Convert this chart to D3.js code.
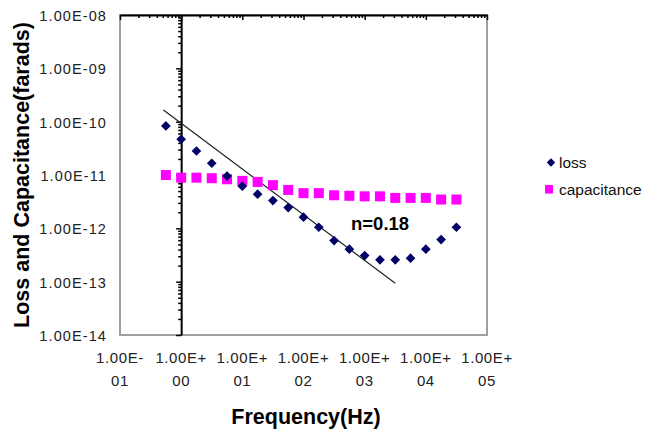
<!DOCTYPE html>
<html>
<head>
<meta charset="utf-8">
<script src="https://cdn.jsdelivr.net/npm/d3@7"></script>
<style>
  body { margin: 0; background: #fff; }
  svg { font-family: "Liberation Sans", Arial, sans-serif; }
</style>
</head>
<body>
<svg id="chart"></svg>
<script>
// log10 of frequency (Hz) for each measured point
const logFreq = [-0.25, 0, 0.25, 0.5, 0.75, 1, 1.25, 1.5, 1.75, 2, 2.25, 2.5, 2.75, 3, 3.25, 3.5, 3.75, 4, 4.25, 4.5];
// log10 of loss (farads)
const logLoss = [-10.08, -10.33, -10.55, -10.78, -11.02, -11.21, -11.36, -11.48, -11.61, -11.79,
                 -11.98, -12.23, -12.39, -12.51, -12.59, -12.59, -12.56, -12.39, -12.21, -11.98];
// log10 of capacitance (farads)
const logCap = [-11.0, -11.05, -11.05, -11.06, -11.08, -11.11, -11.13, -11.19, -11.28, -11.34,
                -11.34, -11.38, -11.39, -11.40, -11.40, -11.43, -11.43, -11.43, -11.46, -11.46];
// power-law fit line, endpoints [log f, log y]
const fitLine = [[-0.29, -9.78], [3.5, -13.03]];
const fitLabel = "n=0.18";
const xTickExp = [-1, 0, 1, 2, 3, 4, 5];
const yTickExp = [-8, -9, -10, -11, -12, -13, -14];
const seriesNames = ["loss", "capacitance"];

const width = 645, height = 429;
const svg = d3.select("#chart").attr("width", width).attr("height", height);

const x = d3.scaleLog().domain([0.1, 1e5]).range([120, 487]);
const y = d3.scaleLog().domain([1e-14, 1e-8]).range([335, 15]);

const sci = e => "1.00E" + (e < 0 ? "-" : "+") + String(Math.abs(e)).padStart(2, "0");

// plot frame (gray)
svg.append("rect")
    .attr("x", x.range()[0]).attr("y", y.range()[1])
    .attr("width", x.range()[1] - x.range()[0])
    .attr("height", y.range()[0] - y.range()[1])
    .attr("fill", "none").attr("stroke", "#a0a0a0").attr("stroke-width", 2);

// minor tick values
const minors = (lo, hi) => {
    const out = [];
    for (let e = lo; e < hi; e++) for (let m = 2; m <= 9; m++) out.push(m * Math.pow(10, e));
    return out;
};

// x axis crosses at top (y = 1e-8)
const xAxisG = svg.append("g").attr("transform", `translate(0,${y(1e-8)})`);
xAxisG.append("g")
    .call(d3.axisBottom(x).tickValues(minors(-1, 5)).tickSize(3).tickFormat(""))
    .call(g => g.select(".domain").remove());
xAxisG.append("g")
    .call(d3.axisBottom(x).tickValues(xTickExp.map(e => Math.pow(10, e))).tickSize(5).tickFormat("").tickSizeOuter(0))
    .call(g => g.select(".domain").attr("stroke-width", 2));
xAxisG.selectAll("line").attr("stroke", "#000").attr("stroke-width", 1.5);

// y axis crosses at x = 1
const yAxisG = svg.append("g").attr("transform", `translate(${x(1)},0)`);
yAxisG.append("g")
    .call(d3.axisLeft(y).tickValues(minors(-14, -8)).tickSize(3).tickFormat(""))
    .call(g => g.select(".domain").remove());
yAxisG.append("g")
    .call(d3.axisLeft(y).tickValues(yTickExp.map(e => Math.pow(10, e))).tickSize(5).tickFormat("").tickSizeOuter(0))
    .call(g => g.select(".domain").attr("stroke-width", 2));
yAxisG.selectAll("line").attr("stroke", "#000").attr("stroke-width", 1.5);

// y tick labels (low position)
svg.append("g").selectAll("text")
    .data(yTickExp).enter()
    .append("text")
    .attr("x", 107)
    .attr("y", e => y(Math.pow(10, e)) + 1)
    .attr("dy", "0.35em")
    .attr("text-anchor", "end")
    .attr("font-size", 14.5)
    .attr("letter-spacing", 1.1)
    .attr("fill", "#222")
    .text(sci);

// x tick labels, split over two lines
const xl = svg.append("g").selectAll("text")
    .data(xTickExp).enter()
    .append("text")
    .attr("text-anchor", "middle")
    .attr("font-size", 15)
    .attr("letter-spacing", 0.6)
    .attr("fill", "#222");
xl.append("tspan")
    .attr("x", e => x(Math.pow(10, e)))
    .attr("y", 363)
    .text(e => sci(e).slice(0, 6));
xl.append("tspan")
    .attr("x", e => x(Math.pow(10, e)))
    .attr("y", 386)
    .text(e => sci(e).slice(6));

// axis titles
svg.append("text")
    .attr("x", 306).attr("y", 424)
    .attr("text-anchor", "middle")
    .attr("font-size", 21.5).attr("font-weight", "bold")
    .text("Frequency(Hz)");
svg.append("text")
    .attr("transform", "translate(29,175) rotate(-90)")
    .attr("text-anchor", "middle")
    .attr("font-size", 21.5).attr("font-weight", "bold")
    .text("Loss and Capacitance(farads)");

// fit line
svg.append("line")
    .attr("x1", x(Math.pow(10, fitLine[0][0]))).attr("y1", y(Math.pow(10, fitLine[0][1])))
    .attr("x2", x(Math.pow(10, fitLine[1][0]))).attr("y2", y(Math.pow(10, fitLine[1][1])))
    .attr("stroke", "#222").attr("stroke-width", 1.2);

// capacitance squares
const capData = logFreq.map((f, i) => ({ f: Math.pow(10, f), v: Math.pow(10, logCap[i]) }));
svg.append("g").selectAll("rect")
    .data(capData).enter()
    .append("rect")
    .attr("x", d => x(d.f) - 5).attr("y", d => y(d.v) - 5)
    .attr("width", 10).attr("height", 10)
    .attr("fill", "#ff00ff");

// loss diamonds
const lossData = logFreq.map((f, i) => ({ f: Math.pow(10, f), v: Math.pow(10, logLoss[i]) }));
const diamond = d3.symbol().type(d3.symbolDiamond2).size(60);
svg.append("g").selectAll("path")
    .data(lossData).enter()
    .append("path")
    .attr("d", diamond)
    .attr("transform", d => `translate(${x(d.f)},${y(d.v)})`)
    .attr("fill", "#000066");

// fit annotation
svg.append("text")
    .attr("x", 351).attr("y", 230)
    .attr("font-size", 18.5).attr("font-weight", "bold")
    .text(fitLabel);

// legend
const lg = svg.append("g");
lg.append("path").attr("d", d3.symbol().type(d3.symbolDiamond2).size(45))
    .attr("transform", "translate(551,162.5)").attr("fill", "#000066");
lg.append("rect").attr("x", 545).attr("y", 185).attr("width", 8).attr("height", 8.5).attr("fill", "#ff00ff");
lg.selectAll("text").data(seriesNames).enter()
    .append("text")
    .attr("x", 559)
    .attr("y", (d, i) => 167.5 + i * 27)
    .attr("font-size", 15.5)
    .attr("fill", "#111")
    .text(d => d);
</script>
</body>
</html>
